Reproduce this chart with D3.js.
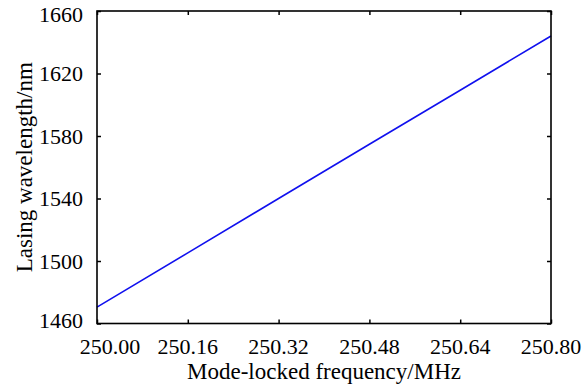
<!DOCTYPE html>
<html><head><meta charset="utf-8">
<script src="https://cdn.jsdelivr.net/npm/d3@7/dist/d3.min.js"></script>
<style>
html,body{margin:0;padding:0;background:#fff;}
svg{display:block;}
</style></head>
<body><svg id="c" width="585" height="388"></svg>
<script>
const freq = [250.00, 250.16, 250.32, 250.48, 250.64, 250.80];
const wavelength = [1470.5, 1505.2, 1540.0, 1574.7, 1609.3, 1644.0];
const xTicks = [250.00, 250.16, 250.32, 250.48, 250.64, 250.80];
const yTicks = [1460, 1500, 1540, 1580, 1620, 1660];
const xTitle = "Mode-locked frequency/MHz";
const yTitle = "Lasing wavelength/nm";

const FONT = "'Liberation Serif', 'Times New Roman', Times, 'DejaVu Serif', serif";
const L = 97, R = 551, T = 11, B = 323.5;
const svg = d3.select("#c").attr("font-family", FONT);
const x = d3.scaleLinear().domain([250.0, 250.8]).range([L, R]);
const y = d3.scaleLinear().domain([1460, 1660]).range([B, T]);
const fsTick = 22, fsTitle = 23;

// ticks (inward on all sides)
const tl = 4;
const g = svg.append("g");
g.append("g").attr("transform", `translate(0,${B})`)
  .call(d3.axisTop(x).tickValues(xTicks).tickSize(tl).tickFormat(""))
  .call(s => s.select(".domain").remove());
g.append("g").attr("transform", `translate(0,${T})`)
  .call(d3.axisBottom(x).tickValues(xTicks).tickSize(tl).tickFormat(""))
  .call(s => s.select(".domain").remove());
g.append("g").attr("transform", `translate(${L},0)`)
  .call(d3.axisRight(y).tickValues(yTicks).tickSize(tl).tickFormat(""))
  .call(s => s.select(".domain").remove());
g.append("g").attr("transform", `translate(${R},0)`)
  .call(d3.axisLeft(y).tickValues(yTicks).tickSize(tl).tickFormat(""))
  .call(s => s.select(".domain").remove());
g.selectAll(".tick line").attr("stroke", "#000").attr("stroke-width", 1.5);

// tick labels
const xl = svg.append("g");
xTicks.forEach((v, i) => {
  const dx = i === 0 ? 13 : 0;
  xl.append("text").attr("x", x(v) + dx).attr("y", B + 30)
    .attr("font-family", FONT)
    .attr("text-anchor", "middle").attr("font-size", fsTick).attr("fill", "#000").text(v.toFixed(2));
});
const yl = svg.append("g");
yTicks.forEach((v, i) => {
  const dy = i === 0 ? -3.5 : (i === yTicks.length - 1 ? 3 : 0);
  yl.append("text").attr("x", L - 14).attr("y", y(v) + dy)
    .attr("font-family", FONT)
    .attr("dy", "0.35em").attr("text-anchor", "end").attr("font-size", fsTick).attr("fill", "#000").text(v);
});

// line
const line = d3.line().x((d, i) => x(freq[i])).y(d => y(d));
svg.append("path").datum(wavelength).attr("d", line)
  .attr("fill", "none").attr("stroke", "#1010ee").attr("stroke-width", 1.6);

// frame
svg.append("rect").attr("x", L).attr("y", T).attr("width", R - L).attr("height", B - T)
  .attr("fill", "none").attr("stroke", "#000").attr("stroke-width", 1.6);

// titles
svg.append("text").attr("x", (L + R) / 2).attr("y", 379)
  .attr("font-family", FONT)
  .attr("text-anchor", "middle").attr("font-size", fsTitle).attr("fill", "#000").text(xTitle);
svg.append("text").attr("transform", `translate(32,${(T + B) / 2}) rotate(-90)`)
  .attr("font-family", FONT)
  .attr("text-anchor", "middle").attr("font-size", fsTitle).attr("fill", "#000").text(yTitle);
</script></body></html>
